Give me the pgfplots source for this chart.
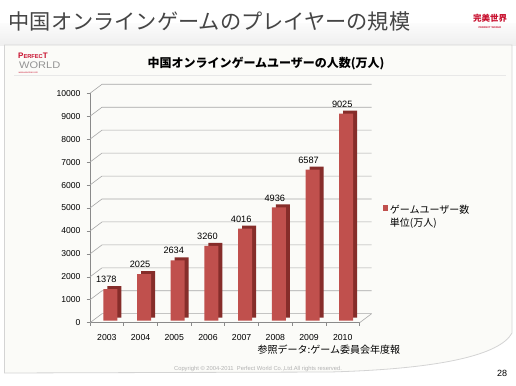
\documentclass[border=0pt]{standalone}
\usepackage{pgfplots}
\pgfplotsset{compat=1.18}
\usepackage{fontspec}
\setmainfont{Liberation Sans}
\newfontfamily\cjk{Noto Sans CJK JP}
\definecolor{barfront}{HTML}{C0504D}
\definecolor{barside}{HTML}{862D2A}
\definecolor{gridc}{HTML}{A8A8A8}
\definecolor{axisc}{HTML}{8A8A8A}
\definecolor{panel}{HTML}{FBFBF8}
\definecolor{panelborder}{HTML}{D4D4D4}
\definecolor{pwred}{HTML}{C8102E}
\definecolor{titlec}{HTML}{454545}
\begin{document}
\begin{tikzpicture}[x=1pt,y=1pt]
\useasboundingbox (0,0) rectangle (516,385);
\fill[white] (0,0) rectangle (516,385);
% faint silhouette band
\shade[top color=gray!3, bottom color=gray!13] (0,339) rectangle (516,361);
% slide title
\node[anchor=west, inner sep=0pt, text=titlec, font=\cjk\fontsize{21.2}{24}\selectfont] at (8.5,363.3) {中国オンラインゲームのプレイヤーの規模};
% top-right logo
\node[inner sep=0pt, text=pwred, font=\cjk\bfseries\fontsize{8.5}{9}\selectfont] at (490,367) {完美世界};
\node[inner sep=0pt, text=pwred, font=\bfseries\fontsize{2.6}{3}\selectfont] at (490,357.8) {PERFECT WORLD};
% content panel with curl
\draw[panelborder, fill=panel, line width=0.8pt] (4.5,12) -- (4.5,340) -- (512,340) -- (512,52) .. controls (500,30) and (440,16) .. (330,13) -- cycle;
\draw[gray!18] (14,309.5) -- (506,309.5);
% top-left logo
\node[anchor=west, inner sep=0pt, text=pwred, font=\bfseries\fontsize{8}{8}\selectfont] at (18,329.6) {P{\fontsize{5.7}{6}\selectfont ERFEC}T};
\node[anchor=west, inner sep=0pt, text=gray!85, font=\fontsize{9.6}{10}\selectfont, xscale=1.15] at (19,319.6) {WORLD};
\node[anchor=west, inner sep=0pt, text=pwred, font=\fontsize{2.4}{3}\selectfont] at (18.5,312.2) {www.wanmei.com};
% chart title
\node[inner sep=0pt, font=\cjk\bfseries\fontsize{12}{14}\selectfont] at (266,321) {中国オンラインゲームユーザーの人数(万人)};
% source note
\node[anchor=west, inner sep=0pt, font=\cjk\fontsize{10}{12}\selectfont] at (257.5,35.7) {参照データ:ゲーム委員会年度報};
% copyright
\node[inner sep=0pt, text=gray!60, font=\fontsize{5.8}{7}\selectfont] at (258,16) {Copyright © 2004-2011\ \ Perfect World Co.,Ltd.All rights reserved.};
% page number
\node[inner sep=0pt, font=\fontsize{9}{10}\selectfont] at (502,11.5) {28};
\begin{axis}[
  at={(90pt,62.3pt)}, anchor=south west,
  scale only axis, width=269.6pt, height=229.4pt,
  xmin=-0.5, xmax=7.5, ymin=0, ymax=10000,
  clip=false,
  axis x line*=bottom, axis y line*=left,
  axis line style={axisc, line width=0.6pt, -},
  xtick={0,...,7},
  xticklabels={2003,2004,2005,2006,2007,2008,2009,2010},
  major x tick style={draw=none},
  minor xtick={-0.5,0.5,...,7.5},
  minor x tick style={axisc, line width=0.6pt},
  ytick={0,1000,...,10000},
  y tick style={axisc, line width=0.6pt},
  tick align=outside,
  major tick length=3.5pt, minor tick length=3pt,
  scaled y ticks=false,
  /pgf/number format/1000 sep={},
  /pgf/number format/assume math mode=true,
  yticklabel style={font=\fontsize{8.6}{10}\selectfont, xshift=-2.5pt},
  xticklabel style={font=\fontsize{8.7}{10}\selectfont, yshift=-4.5pt},
  legend style={at={(1,0.5)}, anchor=west, xshift=20pt, yshift=-2pt, draw=none, fill=none,
    font=\cjk\fontsize{10}{13}\selectfont, cells={anchor=west}},
]
\pgfplotsinvokeforeach{0,1000,...,10000}{
  \draw[gridc, line width=0.6pt] (axis cs:-0.5,#1) -- ++(12pt,9pt) -- ([shift={(12pt,9pt)}]axis cs:7.5,#1);
}
\draw[gridc, line width=0.6pt] (axis cs:7.5,0) -- ++(12pt,9pt);
\addplot[ybar, bar width=14pt, bar shift=7.5pt, fill=barside, draw=none, yshift=5pt, forget plot]
  coordinates {(0,1378) (1,2025) (2,2634) (3,3260) (4,4016) (5,4936) (6,6587) (7,9025)};
\addplot[ybar, bar width=14pt, bar shift=3.5pt, fill=barfront, draw=none, yshift=2pt,
  nodes near coords,
  nodes near coords style={font=\fontsize{9.2}{10}\selectfont, anchor=south, inner sep=0pt, yshift=6pt, xshift=-0.5pt},
  legend image code/.code={\fill[barfront] (0pt,-2.6pt) rectangle (5.2pt,2.6pt);}]
  coordinates {(0,1378) (1,2025) (2,2634) (3,3260) (4,4016) (5,4936) (6,6587) (7,9025)};
\addlegendentry{\begin{tabular}[t]{@{}l@{}}ゲームユーザー数\\単位(万人)\end{tabular}}
\end{axis}
\end{tikzpicture}
\end{document}
